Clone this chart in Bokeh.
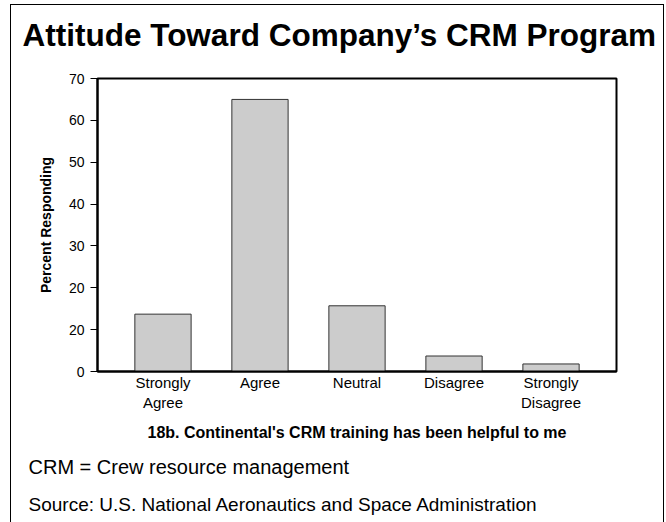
from bokeh.plotting import figure
from bokeh.models import FactorRange, Range1d, FixedTicker, Title
from bokeh.embed import file_html
from bokeh.resources import INLINE

# ---- data ----
categories = ["Strongly\nAgree", "Agree", "Neutral", "Disagree", "Strongly\nDisagree"]
percents = [13.7, 65.0, 15.7, 3.7, 1.8]
y_ticks = [0, 10, 20, 30, 40, 50, 60, 70]
y_tick_labels = ["0", "20", "20", "30", "40", "50", "60", "70"]

title_text = "Attitude Toward Company\u2019s CRM Program"
x_title = "18b. Continental's CRM training has been helpful to me"
y_title = "Percent Responding"
note_text = "CRM = Crew resource management"
source_text = "Source: U.S. National Aeronautics and Space Administration"

FONT = "Liberation Sans"

p = figure(
    width=652, height=517,
    x_range=FactorRange(factors=categories, range_padding=0.175, range_padding_units="absolute"),
    y_range=Range1d(0, 70),
    output_backend="svg", toolbar_location=None,
    min_border_left=86, min_border_right=47, min_border_top=73, min_border_bottom=151,
    title=None,
)
p.margin = (5, 0, 0, 11)
p.styles = {"outline": "1px solid black"}
p.background_fill_color = "white"
p.border_fill_color = "white"
p.outline_line_color = "black"
p.outline_line_width = 2
p.xgrid.visible = False
p.ygrid.visible = False

p.vbar(x=categories, top=percents, width=0.58, fill_color="#cccccc",
       line_color="#333333", line_width=1)

# y axis
p.yaxis.ticker = FixedTicker(ticks=y_ticks)
p.yaxis.major_label_overrides = {t: l for t, l in zip(y_ticks, y_tick_labels)}
p.yaxis.axis_line_width = 2
p.yaxis.major_tick_out = 7
p.yaxis.major_tick_in = 0
p.yaxis.minor_tick_line_color = None
p.yaxis.major_label_text_font = FONT
p.yaxis.major_label_text_font_size = "14px"
p.yaxis.major_label_text_color = "black"
p.yaxis.major_label_standoff = 6
p.yaxis.axis_label = y_title
p.yaxis.axis_label_text_font = FONT
p.yaxis.axis_label_text_font_style = "bold"
p.yaxis.axis_label_text_font_size = "14px"
p.yaxis.axis_label_text_color = "black"
p.yaxis.axis_label_standoff = 12

# x axis
p.xaxis.axis_line_width = 2
p.xaxis.major_tick_out = 0
p.xaxis.major_tick_in = 0
p.xaxis.major_label_text_font = FONT
p.xaxis.major_label_text_font_size = "15px"
p.xaxis.major_label_text_color = "black"
p.xaxis.major_label_standoff = 2
p.xaxis.axis_label = x_title
p.xaxis.axis_label_text_font = FONT
p.xaxis.axis_label_text_font_style = "bold"
p.xaxis.axis_label_text_font_size = "16px"
p.xaxis.axis_label_text_color = "black"
p.xaxis.axis_label_standoff = 10

# spacer between frame and main title (closest to the frame)
p.add_layout(Title(text=" ", align="left", standoff=4,
                   text_font=FONT, text_font_size="18px"), "above")
# main title
p.add_layout(Title(text=title_text, align="left", offset=-75, standoff=0,
                   text_font=FONT, text_font_style="bold", text_font_size="31.5px",
                   text_color="black"), "above")
# notes below
p.add_layout(Title(text=note_text, align="left", offset=-69, standoff=20,
                   text_font=FONT, text_font_style="normal", text_font_size="20px",
                   text_color="black"), "below")
p.add_layout(Title(text=source_text, align="left", offset=-69, standoff=8,
                   text_font=FONT, text_font_style="normal", text_font_size="19px",
                   text_color="black"), "below")

open("out.html", "w").write(file_html(p, INLINE))
